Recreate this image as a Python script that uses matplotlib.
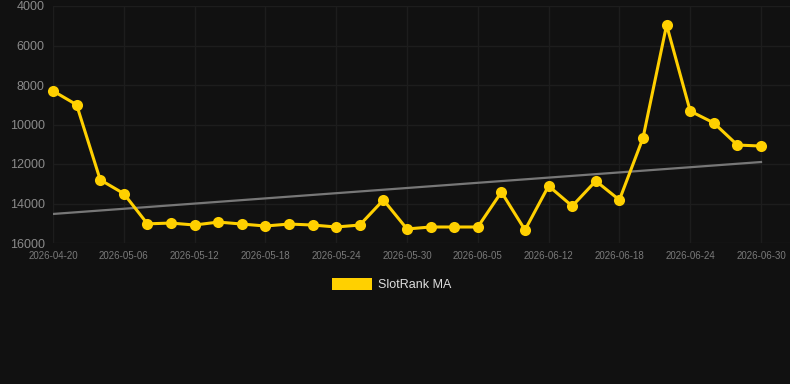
import matplotlib
matplotlib.use("Agg")
import matplotlib.pyplot as plt
from matplotlib.patches import Rectangle

tick_labels = ["2026-04-20", "2026-05-06", "2026-05-12", "2026-05-18", "2026-05-24",
               "2026-05-30", "2026-06-05", "2026-06-12", "2026-06-18", "2026-06-24", "2026-06-30"]
values = [8300, 9000, 12800, 13500, 15030, 14990, 15090, 14940, 15040, 15140,
          15040, 15090, 15190, 15090, 13820, 15290, 15190, 15190, 15190, 13420,
          15340, 13110, 14130, 12860, 13820, 10680, 4960, 9320, 9920, 11040, 11090]
trend_start = 14530
trend_end = 11900
y_ticks = [4000, 6000, 8000, 10000, 12000, 14000, 16000]

plt.rcParams['font.family'] = ['Liberation Sans', 'DejaVu Sans']

W, H = 790, 384
fig = plt.figure(figsize=(W / 100, H / 100), dpi=100, facecolor='#111111')
ax = fig.add_axes([53 / W, 1 - 243 / H, (W - 53) / W, (243 - 6) / H])
ax.set_facecolor('#111111')

n = len(values)
x = list(range(n))
step = (761 - 53) / (n - 1)
ax.set_xlim(0, (W - 53) / step)
ax.set_ylim(16000, 4000)

ax.set_yticks(y_ticks)
ax.set_yticklabels([str(v) for v in y_ticks])
tick_pos = list(range(0, n, 3))
ax.set_xticks(tick_pos)
ax.set_xticklabels(tick_labels)

ax.grid(True, color='#1d1d1d', linewidth=1)
ax.set_axisbelow(True)
for s in ax.spines.values():
    s.set_visible(False)
ax.tick_params(axis='both', length=0)
ax.tick_params(axis='y', colors='#8a8a8a', labelsize=9, pad=6)
ax.tick_params(axis='x', colors='#7a7a7a', labelsize=7, pad=6)

ax.plot([0, n - 1], [trend_start, trend_end], color='#777777', linewidth=1.6, zorder=2)
ax.plot(x, values, color='#FFD000', linewidth=2.2, marker='o', markersize=8,
        markeredgewidth=0, zorder=3, clip_on=False)

# legend
fig.patches.append(Rectangle((332 / W, 1 - 290 / H), 40 / W, 12 / H,
                             transform=fig.transFigure, facecolor='#FFD000',
                             edgecolor='none'))
fig.text(378 / W, 1 - 284.5 / H, "SlotRank MA", color='#dddddd', fontsize=9,
         va='center', ha='left')

fig.savefig("out.png", dpi=100, facecolor='#111111')
